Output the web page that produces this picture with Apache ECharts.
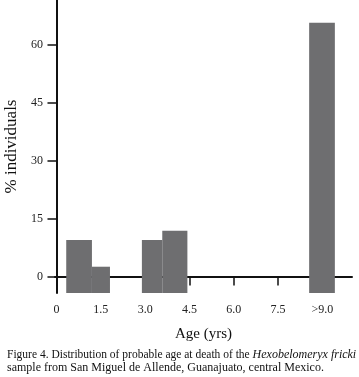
<!DOCTYPE html>
<html>
<head>
<meta charset="utf-8">
<script src="https://cdn.jsdelivr.net/npm/echarts@6/dist/echarts.min.js"></script>
<style>
  html, body { margin: 0; padding: 0; background: #fff; }
  #chart { width: 359px; height: 377px; }
</style>
</head>
<body>
<div id="chart"></div>
<script>
// age bins as [from, to] in years, with % of individuals
const binStart = [0.33, 1.2, 2.89, 3.58, 8.55];
const binEnd = [1.2, 1.81, 3.58, 4.43, 9.42];
const percent = [9.4, 2.5, 9.4, 11.8, 65.6];

const xTicks = [0, 1.5, 3, 4.5, 6, 7.5, 9];
const xTickLabels = ["0", "1.5", "3.0", "4.5", "6.0", "7.5", ">9.0"];
const yTicks = [0, 15, 30, 45, 60];

const yMin = -4.3;
const serif = "Liberation Serif";

const chart = echarts.init(document.getElementById("chart"));

const option = {
  animation: false,
  title: {
    left: 2,
    top: 343,
    text:
      "{a|Figure 4. Distribution of probable age at death of the }{i|Hexobelomeryx fricki}\n" +
      "{b|sample from San Miguel de Allende, Guanajuato, central Mexico.}",
    textStyle: {
      fontWeight: "normal",
      rich: {
        a: { fontFamily: serif, fontSize: 11.5, fontWeight: "normal", color: "#111", lineHeight: 13.5 },
        i: { fontFamily: serif, fontSize: 12, fontWeight: "normal", fontStyle: "italic", color: "#111", lineHeight: 13.5 },
        b: { fontFamily: serif, fontSize: 12, fontWeight: "normal", color: "#111", lineHeight: 13.5 }
      }
    }
  },
  grid: {
    left: 55,
    right: 7,
    top: 0,
    bottom: 84,
    containLabel: false,
    outerBoundsMode: "none"
  },
  xAxis: {
    type: "value",
    min: -0.05,
    max: 10,
    name: "Age (yrs)",
    nameLocation: "middle",
    nameGap: 34,
    nameTextStyle: { fontFamily: serif, fontSize: 15, color: "#111" },
    splitLine: { show: false },
    axisLine: { show: true, lineStyle: { color: "#111", width: 2 } },
    axisTick: {
      show: true,
      customValues: xTicks,
      length: 9,
      lineStyle: { color: "#111", width: 1.5 }
    },
    axisLabel: {
      customValues: xTicks,
      fontFamily: serif,
      fontSize: 12,
      color: "#222",
      margin: 11,
      formatter: function (v) {
        const i = xTicks.indexOf(v);
        return i >= 0 ? xTickLabels[i] : "";
      }
    }
  },
  yAxis: {
    type: "value",
    min: yMin,
    max: 71.5,
    name: "% individuals",
    nameLocation: "middle",
    nameGap: 35,
    nameTextStyle: { fontFamily: serif, fontSize: 17, color: "#111" },
    splitLine: { show: false },
    axisLine: { show: true, lineStyle: { color: "#111", width: 2 } },
    axisTick: {
      show: true,
      customValues: yTicks,
      length: 9,
      lineStyle: { color: "#111", width: 1.5 }
    },
    axisLabel: {
      customValues: yTicks,
      fontFamily: serif,
      fontSize: 12,
      color: "#222",
      margin: 12
    }
  },
  series: [
    {
      type: "custom",
      data: percent.map(function (p, i) {
        return [binStart[i], binEnd[i], p];
      }),
      renderItem: function (params, api) {
        const topLeft = api.coord([api.value(0), api.value(2)]);
        const bottomRight = api.coord([api.value(1), yMin]);
        return {
          type: "rect",
          shape: {
            x: topLeft[0],
            y: topLeft[1],
            width: bottomRight[0] - topLeft[0],
            height: bottomRight[1] - topLeft[1]
          },
          style: { fill: "#6e6e70" }
        };
      }
    }
  ]
};

chart.setOption(option);
</script>
</body>
</html>
